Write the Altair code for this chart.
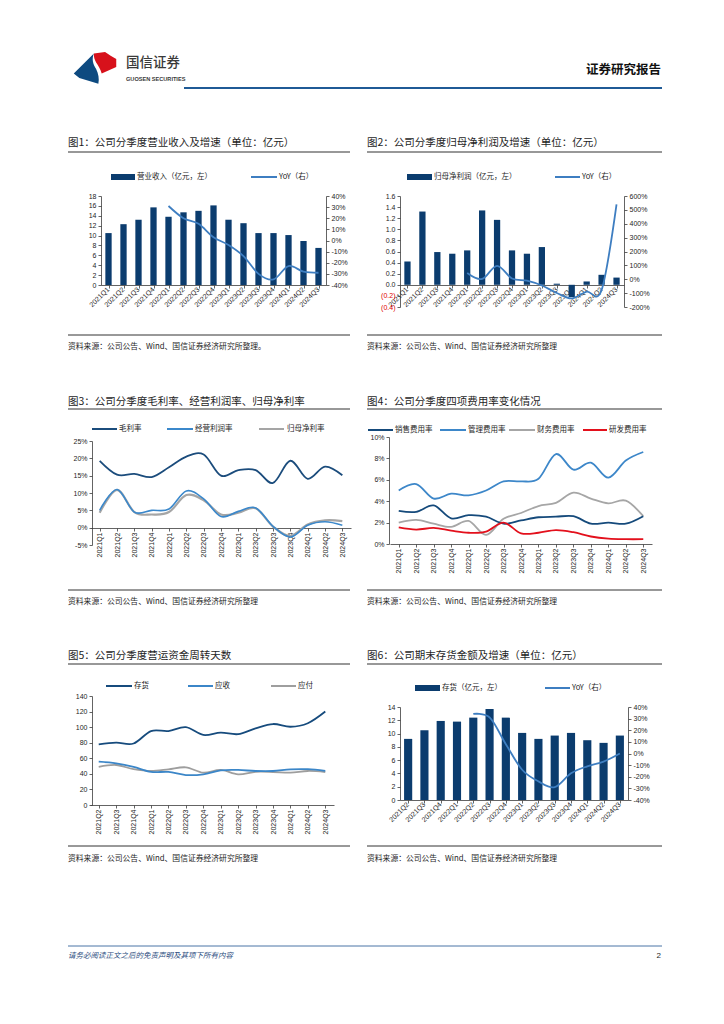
import altair as alt
import pandas as pd

W, H = 708, 1008


def px(X):
    return X - 8


def py(Y):
    return Y - 8


CJK = "Noto Sans CJK SC"
LAT = "Liberation Sans"
AXC = "#3c3c3c"
TXT = "#1e1e1e"
NAVY = "#0B3C6E"
YOYC = "#3E7EC1"

Q15 = ["2021Q1", "2021Q2", "2021Q3", "2021Q4", "2022Q1", "2022Q2", "2022Q3", "2022Q4",
       "2023Q1", "2023Q2", "2023Q3", "2023Q4", "2024Q1", "2024Q2", "2024Q3"]
Q14 = Q15[1:]

# Fig 1
REVENUE = [10.5, 12.3, 13.2, 15.7, 13.8, 14.7, 15.0, 16.1, 13.2, 12.5, 10.5, 10.5, 10.1, 8.9, 7.5]
REVENUE_YOY_Q = Q15[4:]
REVENUE_YOY = [31, 20, 15, 3, -4, -14, -30, -35, -23, -28, -29]

# Fig 2
NETPROFIT = [0.42, 1.32, 0.59, 0.56, 0.62, 1.34, 1.17, 0.62, 0.56, 0.68, 0.02, -0.22, 0.06, 0.18, 0.13]
NETPROFIT_YOY_Q = Q15[4:]
NETPROFIT_YOY = [45, 2, 97, 5, -10, -45, -99, -138, -89, -78, 540]

# Fig 3
GROSS_M = [19.3, 15.3, 15.5, 14.6, 17.4, 20.5, 21.1, 15.0, 16.6, 16.6, 12.9, 19.3, 14.1, 17.6, 15.1]
OPER_M = [5.0, 11.0, 4.5, 5.0, 5.4, 10.6, 8.3, 3.2, 4.7, 5.7, 0.4, -2.7, 0.7, 1.7, 0.7]
NET_M = [4.3, 10.9, 4.5, 3.8, 4.5, 9.4, 7.9, 3.8, 4.3, 5.6, 0.3, -2.4, 0.9, 2.1, 1.9]

# Fig 4
SELL_R = [3.1, 3.0, 3.6, 2.4, 2.7, 2.55, 1.9, 2.2, 2.5, 2.55, 2.6, 1.9, 2.0, 1.9, 2.6]
ADMIN_R = [5.0, 5.6, 4.25, 4.7, 4.55, 5.0, 5.85, 5.85, 6.1, 8.4, 6.95, 7.6, 6.2, 7.8, 8.6]
FIN_R = [2.0, 2.25, 1.9, 1.6, 2.15, 0.85, 2.35, 2.9, 3.55, 3.85, 4.8, 4.25, 3.8, 4.05, 2.6]
RND_R = [1.55, 1.35, 1.5, 1.25, 1.05, 1.15, 2.0, 1.0, 1.05, 1.3, 1.1, 0.7, 0.5, 0.45, 0.45]

# Fig 5
INV_DAYS = [78, 80, 79, 95, 95, 100, 90, 93, 91, 98.5, 104, 100.5, 105, 120]
AR_DAYS = [55.7, 53.5, 49, 42.5, 42.5, 38.5, 39.4, 44.5, 45, 43.7, 43.7, 45.8, 46, 43.7]
AP_DAYS = [49, 51.4, 46, 43.7, 45.8, 48.4, 41.5, 45, 39.4, 42.6, 42.4, 41.5, 43.7, 42.4]

# Fig 6
INVENTORY = [9.2, 10.5, 11.9, 11.8, 12.4, 13.7, 12.4, 10.1, 9.2, 9.7, 10.1, 9.0, 8.6, 9.7]
INVENTORY_YOY_Q = Q14[4:]
INVENTORY_YOY = [34, 31, 8, -14, -24, -29, -17, -11, -7, 0]

ONE = alt.Data(values=[{"a": 1}])


def band(dom, X0, X1, pad):
    return alt.Scale(domain=dom, range=[px(X0), px(X1)], paddingInner=pad, paddingOuter=pad / 2)


def lin(dom, Ybot, Ytop):
    return alt.Scale(domain=dom, range=[py(Ybot), py(Ytop)], nice=False, zero=False)


def y_axis(orient, X, values, expr=None, color=None):
    off = -px(X) if orient == "left" else px(X) - W
    kw = dict(orient=orient, offset=off, values=values, grid=False, title=None,
              domainColor=AXC, domainWidth=0.8, tickColor=AXC, tickWidth=0.8, tickSize=3,
              labelFont=LAT, labelFontSize=7, labelColor=TXT, labelPadding=2,
              labelOverlap=False, labelFlush=False)
    if expr is not None:
        kw["labelExpr"] = expr
    if color is not None:
        kw["labelColor"] = color
    return alt.Axis(**kw)


def x_axis(Y, angle, pad=3):
    return alt.Axis(orient="bottom", offset=py(Y) - H, labelAngle=angle, labelAlign="right",
                    labelBaseline="middle", ticks=False, domain=True, domainColor=AXC,
                    domainWidth=0.8, grid=False, title=None, labelFont=LAT, labelFontSize=7,
                    labelColor=TXT, labelPadding=pad, labelOverlap=False, labelFlush=False)


def x_ticks(Y):
    return alt.Axis(orient="bottom", offset=py(Y) - H, labels=False, domain=False, ticks=True,
                    tickSize=3, tickColor=AXC, tickWidth=0.8, bandPosition=0, grid=False,
                    title=None)


def bar_layer(q, vals, xs, ys, xax, yax):
    df = pd.DataFrame({"q": q, "v": vals})
    return alt.Chart(df).mark_bar(color=NAVY).encode(
        x=alt.X("q:N", scale=xs, axis=xax),
        y=alt.Y("v:Q", scale=ys, axis=yax))


def line_layer(q, vals, color, xs, ys, xax=None, yax=None, width=1.8):
    df = pd.DataFrame({"q": q, "v": vals})
    return alt.Chart(df).mark_line(color=color, strokeWidth=width, interpolate="cardinal").encode(
        x=alt.X("q:N", scale=xs, axis=xax),
        y=alt.Y("v:Q", scale=ys, axis=yax))


def tick_layer(q, xs, Y):
    df = pd.DataFrame({"q": q})
    return alt.Chart(df).mark_point(opacity=0).encode(
        x=alt.X("q:N", scale=xs, axis=x_ticks(Y)), y=alt.value(0))


def txt(s, X, Y, size=7.5, color=TXT, align="left", weight="normal", font=CJK, style=None):
    kw = dict(align=align, baseline="middle", fontSize=size, color=color, font=font,
              fontWeight=weight)
    if style is not None:
        kw["fontStyle"] = style
    return alt.Chart(ONE).mark_text(**kw).encode(
        x=alt.value(px(X)), y=alt.value(py(Y)), text=alt.value(s))


def hline(X0, X1, Y, color="#333333", w=1.0):
    return alt.Chart(ONE).mark_rule(color=color, strokeWidth=w).encode(
        x=alt.value(px(X0)), x2=alt.value(px(X1)), y=alt.value(py(Y)))


def rect(X0, X1, Y0, Y1, color):
    return alt.Chart(ONE).mark_rect(color=color).encode(
        x=alt.value(px(X0)), x2=alt.value(px(X1)), y=alt.value(py(Y0)), y2=alt.value(py(Y1)))


def shape(path, X, Y, size, color):
    return alt.Chart(ONE).mark_point(shape=path, filled=True, color=color, size=size,
                                     opacity=1, strokeWidth=0).encode(
        x=alt.value(px(X)), y=alt.value(py(Y)))


SRC = "资料来源：公司公告、Wind、国信证券经济研究所整理"
layers = []

# ---------------- header ----------------
BLUE_PATH = "M -0.95 0.25 L -0.05 -0.65 C -0.15 -0.4 -0.1 -0.2 0.05 0.05 C 0.15 0.25 0.2 0.5 0.15 0.7 L -0.7 0.45 Z"
RED_PATH = "M -0.05 -0.65 L 0.45 -0.72 L 0.7 -0.55 L 0.95 -0.4 L 0.95 -0.05 L 0.3 0.25 C 0.25 0.05 0.15 -0.1 0.05 -0.25 C -0.02 -0.38 -0.06 -0.5 -0.05 -0.65 Z"
layers += [
    shape(BLUE_PATH, 95, 68, 2000, "#0D4A80"),
    shape(RED_PATH, 95, 68, 2000, "#D7111B"),
    txt("国信证券", 126, 63, 13.5, "#3a3a3a", weight=500),
    txt("GUOSEN SECURITIES", 126, 79, 5.6, "#3a3a3a", weight="bold", font=LAT),
    txt("证券研究报告", 661, 70, 12.5, "#111111", align="right", weight="bold"),
    hline(184, 662, 88, "#1F5A96", 2.2),
]

# ---------------- fig 1 ----------------
xs1 = band(Q15, 101, 326, 0.58)
layers += [
    bar_layer(Q15, REVENUE, xs1, lin([0, 18], 285, 196), x_axis(285, -45),
              y_axis("left", 101, list(range(0, 19, 2)))),
    tick_layer(Q15, xs1, 285),
    line_layer(REVENUE_YOY_Q, REVENUE_YOY, YOYC, xs1, lin([-40, 40], 285, 196),
               yax=y_axis("right", 326, list(range(-40, 41, 10)), "datum.value + '%'")),
    txt("图1：公司分季度营业收入及增速（单位：亿元）", 68, 143, 10.5),
    hline(68, 350, 152, "#333333", 1.2),
    rect(111, 135, 174, 180, NAVY), txt("营业收入（亿元，左）", 137, 177),
    hline(251, 277, 177, YOYC, 2), txt("YoY（右）", 279, 177),
    hline(68, 350, 335), txt(SRC + "。", 68, 347, 7.8),
]

# ---------------- fig 2 ----------------
xs2 = band(Q15, 400, 624, 0.58)
np_vals = [round(-0.4 + 0.2 * i, 1) for i in range(11)]
np_expr = "datum.value < 0 ? '(' + format(-datum.value, '.1f') + ')' : format(datum.value, '.1f')"
np_color = {"condition": {"test": "datum.value < 0", "value": "#E00000"}, "value": TXT}
layers += [
    bar_layer(Q15, NETPROFIT, xs2, lin([-0.4, 1.6], 307, 196), x_axis(285, -45),
              y_axis("left", 400, np_vals, np_expr, np_color)),
    tick_layer(Q15, xs2, 285),
    line_layer(NETPROFIT_YOY_Q, NETPROFIT_YOY, YOYC, xs2, lin([-200, 600], 307, 196),
               yax=y_axis("right", 624, list(range(-200, 601, 100)), "datum.value + '%'")),
    txt("图2：公司分季度归母净利润及增速（单位：亿元）", 367, 143, 10.5),
    hline(367, 662, 152, "#333333", 1.2),
    rect(407, 432, 174, 180, NAVY), txt("归母净利润（亿元，左）", 434, 177),
    hline(555, 580, 177, YOYC, 2), txt("YoY（右）", 582, 177),
    hline(367, 662, 335), txt(SRC, 367, 347, 7.8),
]

# ---------------- fig 3 ----------------
xs3 = band(Q15, 91, 351, 0)
ys3 = lin([-5, 25], 545, 441)
C3 = ["#1B4C7C", "#3B88CB", "#A5A5A5"]
layers += [
    line_layer(Q15, NET_M, C3[2], xs3, ys3, width=2.2),
    line_layer(Q15, OPER_M, C3[1], xs3, ys3, width=1.6),
    line_layer(Q15, GROSS_M, C3[0], xs3, ys3, xax=x_axis(528, -90, 4),
               yax=y_axis("left", 92, list(range(-5, 26, 5)), "datum.value + '%'")),
    tick_layer(Q15, xs3, 528),
    txt("图3：公司分季度毛利率、经营利润率、归母净利率", 68, 402, 10.5),
    hline(68, 350, 409, "#333333", 1.2),
    hline(92, 117, 429, C3[0], 2), txt("毛利率", 119, 429),
    hline(167, 193, 429, C3[1], 2), txt("经营利润率", 195, 429),
    hline(259, 284, 429, C3[2], 2), txt("归母净利率", 287, 429),
    hline(68, 350, 590), txt(SRC, 68, 602, 7.8),
]

# ---------------- fig 4 ----------------
xs4 = band(Q15, 390, 652, 0)
ys4 = lin([0, 10], 544, 437)
C4 = ["#154A7B", "#3D87C9", "#A6A6A6", "#E3101C"]
layers += [
    line_layer(Q15, FIN_R, C4[2], xs4, ys4),
    line_layer(Q15, ADMIN_R, C4[1], xs4, ys4),
    line_layer(Q15, SELL_R, C4[0], xs4, ys4),
    line_layer(Q15, RND_R, C4[3], xs4, ys4, xax=x_axis(544, -90, 4),
               yax=y_axis("left", 389, list(range(0, 11, 2)), "datum.value + '%'")),
    tick_layer(Q15, xs4, 544),
    txt("图4：公司分季度四项费用率变化情况", 367, 402, 10.5),
    hline(367, 662, 409, "#333333", 1.2),
    hline(368, 393, 430, C4[0], 2), txt("销售费用率", 395, 430),
    hline(440, 466, 430, C4[1], 2), txt("管理费用率", 468, 430),
    hline(509, 535, 430, C4[2], 2), txt("财务费用率", 537, 430),
    hline(583, 607, 430, C4[3], 2), txt("研发费用率", 609, 430),
    hline(367, 662, 590), txt(SRC, 367, 602, 7.8),
]

# ---------------- fig 5 ----------------
xs5 = band(Q14, 90, 334, 0)
ys5 = lin([0, 140], 805, 696)
C5 = ["#164B7D", "#3B86C8", "#9E9E9E"]
layers += [
    line_layer(Q14, AP_DAYS, C5[2], xs5, ys5),
    line_layer(Q14, AR_DAYS, C5[1], xs5, ys5),
    line_layer(Q14, INV_DAYS, C5[0], xs5, ys5, xax=x_axis(805, -90, 4),
               yax=y_axis("left", 92, list(range(0, 141, 20)))),
    tick_layer(Q14, xs5, 805),
    txt("图5：公司分季度营运资金周转天数", 68, 656, 10.5),
    hline(68, 350, 664, "#333333", 1.2),
    hline(106, 132, 686, C5[0], 2), txt("存货", 134, 686),
    hline(188, 213, 686, C5[1], 2), txt("应收", 215, 686),
    hline(271, 296, 686, C5[2], 2), txt("应付", 298, 686),
    hline(68, 350, 846), txt(SRC, 68, 859, 7.8),
]

# ---------------- fig 6 ----------------
xs6 = band(Q14, 400, 628, 0.5)
layers += [
    bar_layer(Q14, INVENTORY, xs6, lin([0, 14], 800, 707), x_axis(800, -45),
              y_axis("left", 400, list(range(0, 15, 2)))),
    tick_layer(Q14, xs6, 800),
    line_layer(INVENTORY_YOY_Q, INVENTORY_YOY, YOYC, xs6, lin([-40, 40], 800, 707),
               yax=y_axis("right", 628, list(range(-40, 41, 10)), "datum.value + '%'")),
    txt("图6：公司期末存货金额及增速（单位：亿元）", 367, 656, 10.5),
    hline(367, 662, 664, "#333333", 1.2),
    rect(415, 440, 685, 691, NAVY), txt("存货（亿元，左）", 442, 688),
    hline(545, 570, 688, YOYC, 2), txt("YoY（右）", 572, 688),
    hline(367, 662, 846), txt(SRC, 367, 859, 7.8),
]

# ---------------- footer ----------------
layers += [
    hline(68, 662, 946, "#4A74A6", 1.0),
    txt("请务必阅读正文之后的免责声明及其项下所有内容", 68, 956, 7.5, "#2B4C7E", style="italic"),
    txt("2", 661, 956, 8, TXT, align="right", font=LAT),
]

chart = alt.layer(*layers).resolve_scale(
    x="independent", y="independent"
).resolve_axis(
    x="independent", y="independent"
).properties(
    width=W, height=H, padding=0, background="white",
    autosize=alt.AutoSizeParams(type="none")
).configure_view(stroke="transparent")

chart.save("out.html", embed_options={"renderer": "svg", "actions": False})
